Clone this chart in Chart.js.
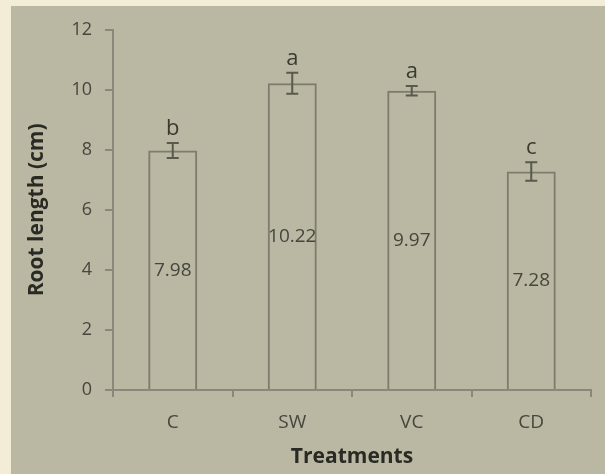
<!DOCTYPE html>
<html>
<head>
<meta charset="utf-8">
<script src="https://cdn.jsdelivr.net/npm/chart.js"></script>
<style>
  html, body { margin: 0; padding: 0; background: #f3ecd6; }
  #panel { position: absolute; left: 11px; top: 6px; width: 594px; height: 468px; background: #bab8a2; }
  #chart { display: block; }
</style>
</head>
<body>
<div id="panel"><canvas id="chart" width="594" height="468"></canvas></div>
<script>
// data
const treatments = ['C', 'SW', 'VC', 'CD'];
const rootLength = [7.98, 10.22, 9.97, 7.28];
const stdError = [0.25, 0.35, 0.16, 0.31];
const groups = ['b', 'a', 'a', 'c'];
const yTicks = [0, 2, 4, 6, 8, 10, 12];

const axisColor = '#8a887a';
const barLine = '#7e7c6c';
const textColor = '#46463e';
const fontFamily = "'Open Sans', 'Liberation Sans', sans-serif";

// error bars, value labels in the bars, letters above
const extras = {
  id: 'extras',
  afterDatasetsDraw(chart) {
    const { ctx, scales: { y } } = chart;
    const meta = chart.getDatasetMeta(0);
    ctx.save();
    meta.data.forEach((bar, i) => {
      const cx = bar.x;
      const top = y.getPixelForValue(rootLength[i] + stdError[i]);
      const bot = y.getPixelForValue(rootLength[i] - stdError[i]);
      ctx.strokeStyle = '#5a594d';
      ctx.lineWidth = 2;
      ctx.beginPath();
      ctx.moveTo(cx, top); ctx.lineTo(cx, bot);
      ctx.moveTo(cx - 6, top); ctx.lineTo(cx + 6, top);
      ctx.moveTo(cx - 6, bot); ctx.lineTo(cx + 6, bot);
      ctx.stroke();

      ctx.fillStyle = textColor;
      ctx.textAlign = 'center';
      ctx.textBaseline = 'middle';
      ctx.font = '19px ' + fontFamily;
      const mid = (y.getPixelForValue(rootLength[i]) + y.getPixelForValue(0)) / 2;
      ctx.fillText(rootLength[i].toFixed(2), cx, mid);

      ctx.fillStyle = '#3a3a33';
      ctx.textBaseline = 'alphabetic';
      ctx.font = '22px ' + fontFamily;
      ctx.fillText(groups[i], cx, top - 8);
    });
    ctx.restore();
  }
};

new Chart(document.getElementById('chart'), {
  type: 'bar',
  data: {
    labels: treatments,
    datasets: [{
      data: rootLength,
      backgroundColor: 'rgba(0,0,0,0)',
      borderColor: barLine,
      borderWidth: 2,
      borderSkipped: 'bottom',
      barPercentage: 0.41,
      categoryPercentage: 1
    }]
  },
  options: {
    responsive: false,
    animation: false,
    layout: { padding: { left: 0, right: 14, top: 17, bottom: 0 } },
    plugins: { legend: { display: false }, tooltip: { enabled: false } },
    scales: {
      x: {
        offset: true,
        grid: { offset: true, drawOnChartArea: false, color: axisColor, tickLength: 7, lineWidth: 2 },
        border: { color: axisColor, width: 2 },
        ticks: { color: textColor, padding: 14, font: { family: fontFamily, size: 19 } },
        title: { display: true, text: 'Treatments', color: '#2a2a25', padding: { top: 0, bottom: 4 },
                 font: { family: fontFamily, size: 21, weight: 'bold' } },
        afterFit(s) { s.height = 84; }
      },
      y: {
        min: 0, max: 12,
        afterBuildTicks(s) { s.ticks = yTicks.map(v => ({ value: v })); },
        grid: { drawOnChartArea: false, color: axisColor, tickLength: 8, lineWidth: 2 },
        border: { color: axisColor, width: 2 },
        ticks: { color: textColor, padding: 13, font: { family: fontFamily, size: 18 } },
        title: { display: true, text: 'Root length (cm)', color: '#2a2a25', padding: { top: 13, bottom: 0 },
                 font: { family: fontFamily, size: 21, weight: 'bold' } },
        afterFit(s) { s.width = 102; }
      }
    }
  },
  plugins: [extras]
});
</script>
</body>
</html>
